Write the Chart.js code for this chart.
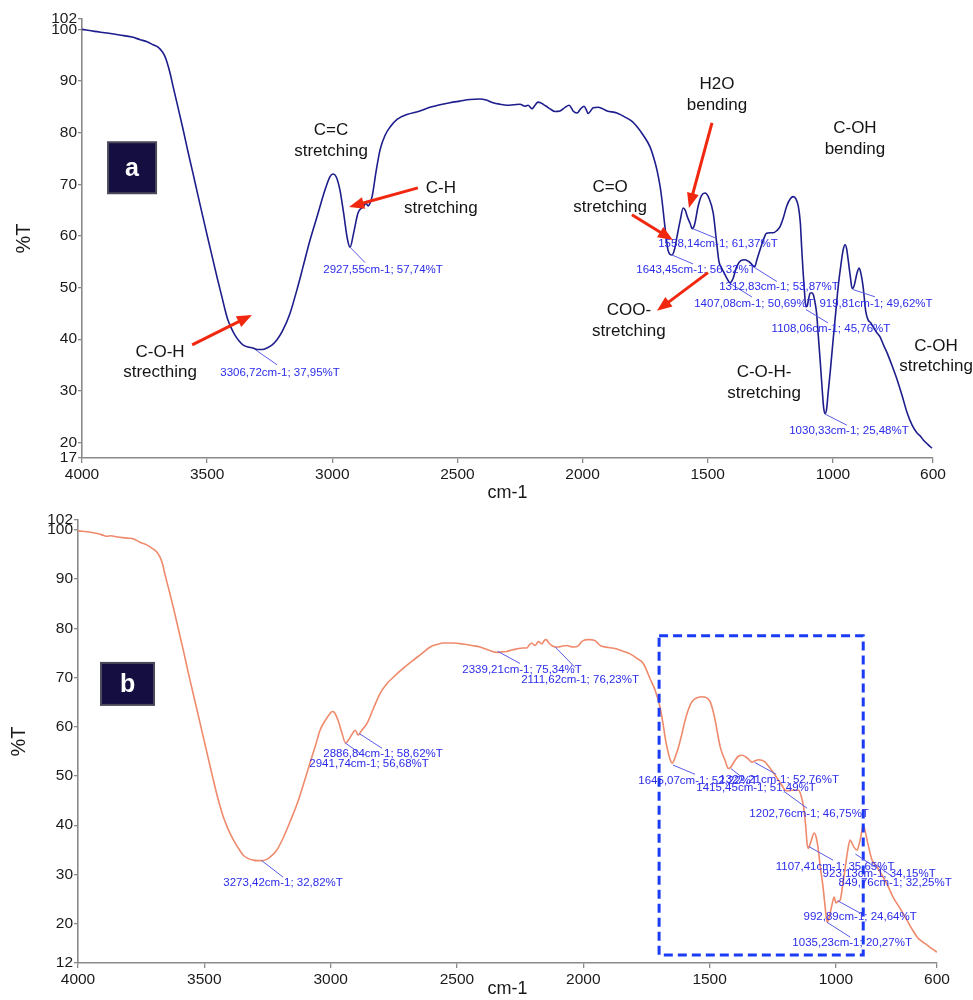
<!DOCTYPE html>
<html>
<head>
<meta charset="utf-8">
<title>FTIR spectra a / b</title>
<script src="https://cdn.jsdelivr.net/npm/chart.js@4.4.0/dist/chart.umd.min.js"></script>
<style>
  body { margin: 0; background: #fff; }
  #wrap { position: relative; width: 973px; height: 1000px; }
  .panel { position: absolute; left: 0; width: 973px; }
  #panelA { top: 0; height: 504px; }
  #panelB { top: 500px; height: 500px; }
</style>
</head>
<body>
<div id="wrap">
  <div class="panel" id="panelA"><canvas id="chartA"></canvas></div>
  <div class="panel" id="panelB"><canvas id="chartB"></canvas></div>
</div>
<script>
// Spectrum a: wavenumber (cm-1) and transmittance (%T)
const waveA = [4000, 3950, 3900, 3850, 3800, 3768, 3740, 3716, 3695, 3680, 3670, 3660, 3648, 3636, 3616, 3596, 3577, 3557, 3537, 3517, 3497, 3477, 3459, 3441, 3428, 3417, 3403, 3389, 3373, 3357, 3337, 3317, 3300, 3280, 3261, 3240, 3221, 3200, 3169, 3140, 3117, 3090, 3061, 3030, 3009, 2997, 2985, 2970, 2955, 2940, 2929, 2915, 2897, 2877, 2865, 2857, 2849, 2841, 2825, 2809, 2790, 2769, 2740, 2702, 2650, 2610, 2570, 2530, 2490, 2450, 2410, 2385, 2358, 2330, 2302, 2275, 2250, 2230, 2218, 2202, 2190, 2178, 2168, 2158, 2145, 2130, 2110, 2090, 2070, 2054, 2045, 2038, 2022, 2008, 1994, 1985, 1978, 1968, 1958, 1938, 1920, 1902, 1863, 1823, 1800, 1783, 1759, 1731, 1715, 1703, 1690, 1683, 1671, 1659, 1650, 1643, 1632, 1623, 1610, 1598, 1590, 1580, 1571, 1562, 1552, 1539, 1525, 1511, 1497, 1478, 1464, 1455, 1445, 1431, 1420, 1411, 1400, 1384, 1368, 1351, 1335, 1324, 1313, 1303, 1291, 1278, 1265, 1250, 1238, 1225, 1211, 1198, 1185, 1170, 1158, 1148, 1138, 1130, 1125, 1119, 1114, 1108, 1103, 1097, 1091, 1084, 1078, 1071, 1065, 1058, 1051, 1043, 1037, 1031, 1025, 1019, 1010, 999, 989, 979, 969, 959, 951, 945, 939, 930, 923, 916, 903, 895, 887, 879, 869, 859, 849, 839, 825, 811, 797, 783, 763, 743, 723, 703, 683, 663, 650, 639, 620, 604];
const transA = [100.0, 99.6, 99.3, 98.9, 98.5, 98.0, 97.6, 97.0, 96.5, 95.7, 94.9, 93.6, 91.5, 88.9, 84.8, 80.6, 76.4, 72.2, 67.9, 63.7, 59.5, 55.4, 51.7, 48.2, 45.6, 43.7, 42.1, 40.8, 39.7, 38.9, 38.5, 38.3, 38.0, 38.0, 38.3, 38.9, 39.9, 41.5, 45.0, 49.8, 54.0, 59.0, 63.7, 68.8, 71.5, 72.0, 71.5, 69.0, 64.5, 59.5, 57.8, 60.5, 64.5, 65.6, 66.3, 65.8, 66.4, 67.6, 72.5, 76.7, 79.4, 81.1, 82.6, 83.5, 84.2, 84.9, 85.4, 85.8, 86.1, 86.4, 86.5, 86.3, 85.8, 85.5, 85.3, 85.4, 85.5, 85.1, 85.3, 84.6, 85.3, 85.9, 85.8, 85.5, 85.1, 84.6, 84.1, 84.2, 84.9, 85.3, 84.8, 84.2, 83.8, 84.6, 85.1, 84.4, 83.7, 84.2, 84.8, 84.9, 84.6, 84.2, 83.8, 82.8, 82.1, 81.2, 79.6, 77.3, 75.0, 72.8, 69.5, 67.0, 61.8, 57.3, 56.4, 56.3, 57.5, 59.8, 63.0, 65.4, 65.0, 63.5, 62.5, 61.4, 62.3, 65.6, 67.8, 68.3, 67.5, 64.4, 58.5, 55.0, 53.8, 52.5, 51.5, 50.9, 51.6, 54.1, 55.2, 55.4, 55.0, 54.5, 54.0, 55.5, 57.3, 59.2, 60.5, 60.6, 60.6, 61.0, 61.8, 63.5, 65.7, 67.2, 67.6, 67.2, 65.7, 62.5, 58.0, 53.0, 49.6, 46.3, 46.4, 47.8, 48.9, 49.0, 48.6, 47.0, 45.0, 40.5, 36.0, 30.5, 26.8, 25.6, 26.5, 29.6, 34.0, 39.9, 45.0, 50.1, 54.0, 57.3, 58.3, 57.5, 55.4, 52.0, 49.8, 50.2, 52.9, 53.8, 52.5, 50.1, 45.5, 43.7, 43.2, 42.4, 41.3, 40.4, 38.8, 37.3, 34.8, 32.1, 29.0, 25.7, 23.3, 21.8, 21.2, 20.5, 19.6, 18.9];

// Spectrum b
const waveB = [4000, 3950, 3920, 3900, 3885, 3870, 3850, 3800, 3782, 3755, 3730, 3702, 3688, 3675, 3665, 3656, 3640, 3623, 3603, 3583, 3564, 3544, 3524, 3504, 3484, 3464, 3445, 3425, 3405, 3385, 3365, 3346, 3326, 3306, 3290, 3273, 3255, 3240, 3215, 3188, 3160, 3133, 3110, 3082, 3060, 3042, 3020, 3002, 2994, 2985, 2970, 2955, 2941, 2930, 2915, 2903, 2891, 2878, 2856, 2830, 2804, 2780, 2753, 2710, 2674, 2640, 2606, 2580, 2554, 2515, 2475, 2440, 2409, 2375, 2342, 2322, 2303, 2283, 2263, 2240, 2224, 2214, 2204, 2191, 2178, 2164, 2155, 2147, 2136, 2125, 2110, 2099, 2082, 2065, 2052, 2039, 2019, 2008, 2000, 1985, 1973, 1960, 1953, 1943, 1933, 1900, 1867, 1840, 1815, 1788, 1762, 1736, 1715, 1696, 1684, 1675, 1665, 1656, 1648, 1640, 1632, 1623, 1610, 1597, 1584, 1571, 1557, 1544, 1530, 1518, 1507, 1497, 1488, 1478, 1468, 1458, 1448, 1439, 1432, 1426, 1418, 1410, 1399, 1386, 1372, 1358, 1346, 1333, 1320, 1307, 1293, 1280, 1267, 1254, 1240, 1227, 1214, 1201, 1188, 1175, 1160, 1148, 1138, 1128, 1120, 1114, 1110, 1100, 1086, 1078, 1071, 1062, 1051, 1043, 1035, 1029, 1023, 1015, 1007, 1000, 992, 983, 973, 963, 953, 944, 936, 928, 916, 910, 904, 897, 893, 885, 877, 867, 857, 837, 813, 793, 774, 745, 719, 700, 679, 660, 640, 620, 600];
const transB = [99.8, 99.5, 99.2, 98.9, 98.7, 98.8, 98.6, 98.3, 98.2, 97.5, 97.0, 96.1, 95.5, 94.4, 93.0, 91.0, 87.8, 84.3, 79.9, 75.5, 71.1, 66.7, 62.3, 57.9, 53.5, 49.1, 45.2, 41.7, 39.1, 37.0, 35.3, 33.9, 33.2, 32.9, 32.8, 32.8, 33.0, 33.5, 34.8, 37.4, 40.8, 44.3, 47.9, 52.6, 56.2, 59.3, 61.4, 62.7, 63.1, 62.9, 61.2, 58.7, 56.7, 57.3, 58.5, 59.3, 58.3, 59.2, 60.7, 63.8, 66.8, 68.6, 70.0, 72.0, 73.5, 74.8, 76.2, 76.7, 77.0, 77.0, 76.8, 76.5, 76.2, 75.6, 75.1, 75.2, 75.3, 75.6, 75.8, 76.0, 76.0, 76.6, 77.0, 76.5, 77.3, 76.8, 77.5, 77.7, 77.0, 76.5, 76.2, 76.2, 76.4, 76.5, 76.3, 76.2, 76.5, 77.2, 77.5, 77.7, 77.7, 77.6, 77.5, 77.0, 76.5, 76.1, 75.8, 75.3, 74.8, 73.9, 72.8, 69.8, 67.3, 63.9, 60.5, 57.5, 55.0, 53.3, 52.6, 53.3, 54.5, 55.9, 58.5, 61.3, 63.5, 65.0, 65.7, 66.0, 66.1, 66.0, 65.7, 65.0, 63.5, 61.3, 58.5, 55.9, 54.3, 53.2, 52.1, 51.5, 51.7, 52.3, 53.2, 54.0, 54.2, 53.9, 53.4, 52.8, 53.1, 53.3, 53.2, 52.8, 52.0, 51.1, 50.1, 49.1, 48.1, 47.1, 47.0, 47.1, 47.1, 47.1, 46.0, 43.7, 40.0, 36.2, 35.3, 36.5, 38.4, 37.5, 35.5, 31.5, 27.4, 23.5, 20.3, 20.8, 22.1, 24.0, 25.4, 24.2, 24.5, 24.8, 28.0, 31.5, 35.0, 37.0, 36.3, 35.5, 34.9, 35.8, 37.0, 39.0, 40.0, 39.0, 37.0, 34.8, 32.9, 31.5, 29.4, 27.5, 25.4, 23.0, 20.7, 19.0, 17.3, 16.4, 15.7, 14.9, 14.2];

// Axis ticks
const xTicks = [4000, 3500, 3000, 2500, 2000, 1500, 1000, 600];
const yTicksA = [102, 100, 90, 80, 70, 60, 50, 40, 30, 20, 17];
const yTicksB = [102, 100, 90, 80, 70, 60, 50, 40, 30, 20, 12];

// Peak picks (cm-1, %T)
const peakWaveA = [3306.72, 2927.55, 1643.45, 1558.14, 1407.08, 1312.83, 1108.06, 1030.33, 919.81];
const peakTransA = [37.95, 57.74, 56.32, 61.37, 50.69, 53.87, 45.76, 25.48, 49.62];
const peakWaveB = [3273.42, 2941.74, 2886.84, 2339.21, 2111.62, 1645.07, 1322.21, 1415.45, 1202.76, 1107.41, 923.13, 849.76, 992.89, 1035.23];
const peakTransB = [32.82, 56.68, 58.62, 75.34, 76.23, 52.22, 52.76, 51.49, 46.75, 35.65, 34.15, 32.25, 24.64, 20.27];

// Band assignments on spectrum a
const bandTextA = [['C=C', 'stretching'], ['C-H', 'stretching'], ['C-O-H', 'strecthing'], ['C=O', 'stretching'], ['H2O', 'bending'], ['C-OH', 'bending'], ['COO-', 'stretching'], ['C-O-H-', 'stretching'], ['C-OH', 'stretching']];

// ---- placement of the annotations (pixel offsets / anchor points) ----
// [text dx, text dy, leader dx, leader dy] relative to the peak point
const peakOffA = [[24.5, 23, 21.5, 15], [32.6, 22, 14.6, 15], [24.2, 15, 21.2, 9], [24.8, 15, 21.8, 9], [23, 20, 21, 13], [24.4, 19, 22.4, 14], [25.1, 19.4, 22.1, 13.4], [23.7, 17, 21.7, 11], [23, 14.3, 22, 7.3]];
const peakOffB = [[21.5, 22.6, 21.5, 16.6], [23.7, 20.3, 14.7, 10.3], [23.8, 20.8, 22.8, 14.8], [24.5, 18.3, 22.5, 12.3], [25, 32.7, 20, 20.7], [25.1, 15.3, 22.1, 9.3], [24.6, 17.9, 21.6, 11.9], [25.1, 19.7, 11.1, 8.7], [24.4, 22.3, 22.4, 16.3], [26.3, 20.6, 24.3, 13.6], [23.8, 20.2, 19.8, 13.2], [21.2, 19.8, 19.2, 13.8], [22.4, 16.3, 22.4, 12.3], [25.1, 20.8, 23.1, 14.8]];
const bandPosA = [[3005, 80.4], [2566, 69.3], [3688, 37.5], [1890, 69.5], [1463, 89.3], [912, 80.8], [1815, 45.5], [1275, 33.5], [588, 38.7]];
const arrowsA = [[3560, 38.9, 3321, 44.7], [2658, 69.3, 2933, 65.6], [1803, 64.1, 1639, 59.2], [1483, 81.9, 1575, 65.4], [1499, 52.9, 1703, 45.5]];

const FONT = "'Liberation Sans', Arial, sans-serif";

function fmt(v) {
    return v.toFixed(2).replace('.', ',');
}

// Draws peak labels, band names, arrows and the panel letter
const annotate = {
    id: 'annotate',
    afterDatasetsDraw(chart, args, opts) {
        const ctx = chart.ctx;
        const xs = chart.scales.x, ys = chart.scales.y;
        const px = v => xs.getPixelForValue(v);
        const py = v => ys.getPixelForValue(v);
        ctx.save();

        // dashed frame (panel b)
        if (opts.frame) {
            const f = opts.frame;
            ctx.strokeStyle = '#1b3cf5';
            ctx.lineWidth = 3;
            ctx.setLineDash([9, 5]);
            ctx.strokeRect(px(f[0]), py(f[1]), px(f[2]) - px(f[0]), py(f[3]) - py(f[1]));
            ctx.setLineDash([]);
        }

        // peak picks
        ctx.font = '11.5px ' + FONT;
        ctx.textAlign = 'center';
        ctx.textBaseline = 'middle';
        opts.peakWave.forEach(function(w, i) {
            const t = opts.peakTrans[i];
            const o = opts.peakOff[i];
            const x0 = px(w), y0 = py(t);
            ctx.strokeStyle = '#5a5ae6';
            ctx.lineWidth = 1;
            ctx.beginPath();
            ctx.moveTo(x0, y0);
            ctx.lineTo(x0 + o[2], y0 + o[3]);
            ctx.stroke();
            ctx.fillStyle = '#2b2bea';
            ctx.fillText(fmt(w) + 'cm-1; ' + fmt(t) + '%T', x0 + o[0], y0 + o[1]);
        });

        // band names
        if (opts.bands) {
            ctx.fillStyle = '#151515';
            ctx.font = '17px ' + FONT;
            opts.bands.forEach(function(lines, i) {
                const p = opts.bandPos[i];
                lines.forEach(function(s, k) {
                    ctx.fillText(s, px(p[0]), py(p[1]) + k * 20.5);
                });
            });
        }

        // red arrows
        (opts.arrows || []).forEach(function(a) {
            const x1 = px(a[0]), y1 = py(a[1]), x2 = px(a[2]), y2 = py(a[3]);
            const ang = Math.atan2(y2 - y1, x2 - x1);
            const head = 15;
            ctx.strokeStyle = '#f0280f';
            ctx.fillStyle = '#f0280f';
            ctx.lineWidth = 3;
            ctx.beginPath();
            ctx.moveTo(x1, y1);
            ctx.lineTo(x2 - head * 0.8 * Math.cos(ang), y2 - head * 0.8 * Math.sin(ang));
            ctx.stroke();
            ctx.beginPath();
            ctx.moveTo(x2, y2);
            ctx.lineTo(x2 - head * Math.cos(ang) + 6 * Math.sin(ang), y2 - head * Math.sin(ang) - 6 * Math.cos(ang));
            ctx.lineTo(x2 - head * Math.cos(ang) - 6 * Math.sin(ang), y2 - head * Math.sin(ang) + 6 * Math.cos(ang));
            ctx.closePath();
            ctx.fill();
        });

        // panel letter box
        const L = opts.letter;
        const cx = px(L.at[0]), cy = py(L.at[1]);
        ctx.fillStyle = '#140f40';
        ctx.fillRect(cx - L.w / 2, cy - L.h / 2, L.w, L.h);
        ctx.strokeStyle = '#4a4a5a';
        ctx.lineWidth = 2;
        ctx.strokeRect(cx - L.w / 2, cy - L.h / 2, L.w, L.h);
        ctx.fillStyle = '#ffffff';
        ctx.font = 'bold 25px ' + FONT;
        ctx.fillText(L.text, cx, cy + 1);

        ctx.restore();
    }
};

function buildChart(id, waves, trans, color, yTicks, box, notes) {
    const points = waves.map(function(w, i) { return { x: w, y: trans[i] }; });
    return new Chart(document.getElementById(id), {
        type: 'line',
        data: {
            datasets: [{
                data: points,
                borderColor: color,
                borderWidth: 1.6,
                pointRadius: 0,
                fill: false,
                cubicInterpolationMode: 'monotone'
            }]
        },
        options: {
            responsive: true,
            maintainAspectRatio: false,
            animation: false,
            devicePixelRatio: 1,
            layout: { padding: { left: 0, top: box.top, right: box.right, bottom: 0 } },
            plugins: {
                legend: { display: false },
                tooltip: { enabled: false },
                annotate: notes
            },
            scales: {
                x: {
                    type: 'linear',
                    reverse: true,
                    min: 600,
                    max: 4000,
                    afterBuildTicks: function(s) { s.ticks = xTicks.map(function(v) { return { value: v }; }); },
                    afterFit: function(s) { s.height = box.xh; },
                    grid: { drawOnChartArea: false, drawTicks: true, tickLength: 5, color: '#8a8a8a', lineWidth: 1.3 },
                    border: { display: true, color: '#8a8a8a', width: 1.6 },
                    ticks: {
                        autoSkip: false, maxRotation: 0, padding: 2, color: '#1a1a1a',
                        font: { family: FONT, size: 15.5 },
                        callback: function(v) { return String(v); }
                    },
                    title: { display: true, text: 'cm-1', color: '#1a1a1a', padding: 0, font: { family: FONT, size: 18 } }
                },
                y: {
                    type: 'linear',
                    min: yTicks[yTicks.length - 1],
                    max: yTicks[0],
                    afterBuildTicks: function(s) { s.ticks = yTicks.map(function(v) { return { value: v }; }); },
                    afterFit: function(s) { s.width = box.yw; },
                    grid: { drawOnChartArea: false, drawTicks: true, tickLength: 4, color: '#8a8a8a', lineWidth: 1.3 },
                    border: { display: true, color: '#8a8a8a', width: 1.6 },
                    ticks: {
                        autoSkip: false, padding: 1, color: '#1a1a1a',
                        font: { family: FONT, size: 15.5 },
                        callback: function(v) { return String(v); }
                    },
                    title: { display: true, text: '%T', color: '#1a1a1a', padding: { top: box.ytp, bottom: 0 }, font: { family: FONT, size: 20 } }
                }
            }
        },
        plugins: [annotate]
    });
}

buildChart('chartA', waveA, transA, '#1d1d8c', yTicksA,
    { top: 19, right: 40, xh: 46, yw: 82, ytp: 12 },
    {
        peakWave: peakWaveA, peakTrans: peakTransA, peakOff: peakOffA,
        bands: bandTextA, bandPos: bandPosA, arrows: arrowsA,
        letter: { text: 'a', at: [3800, 73.2], w: 48, h: 51 }
    });

buildChart('chartB', waveB, transB, '#ef8a6c', yTicksB,
    { top: 20, right: 36, xh: 37, yw: 78, ytp: 7 },
    {
        peakWave: peakWaveB, peakTrans: peakTransB, peakOff: peakOffB,
        frame: [1700, 78.5, 892, 13.6],
        letter: { text: 'b', at: [3804, 68.7], w: 53, h: 42 }
    });
</script>
</body>
</html>
